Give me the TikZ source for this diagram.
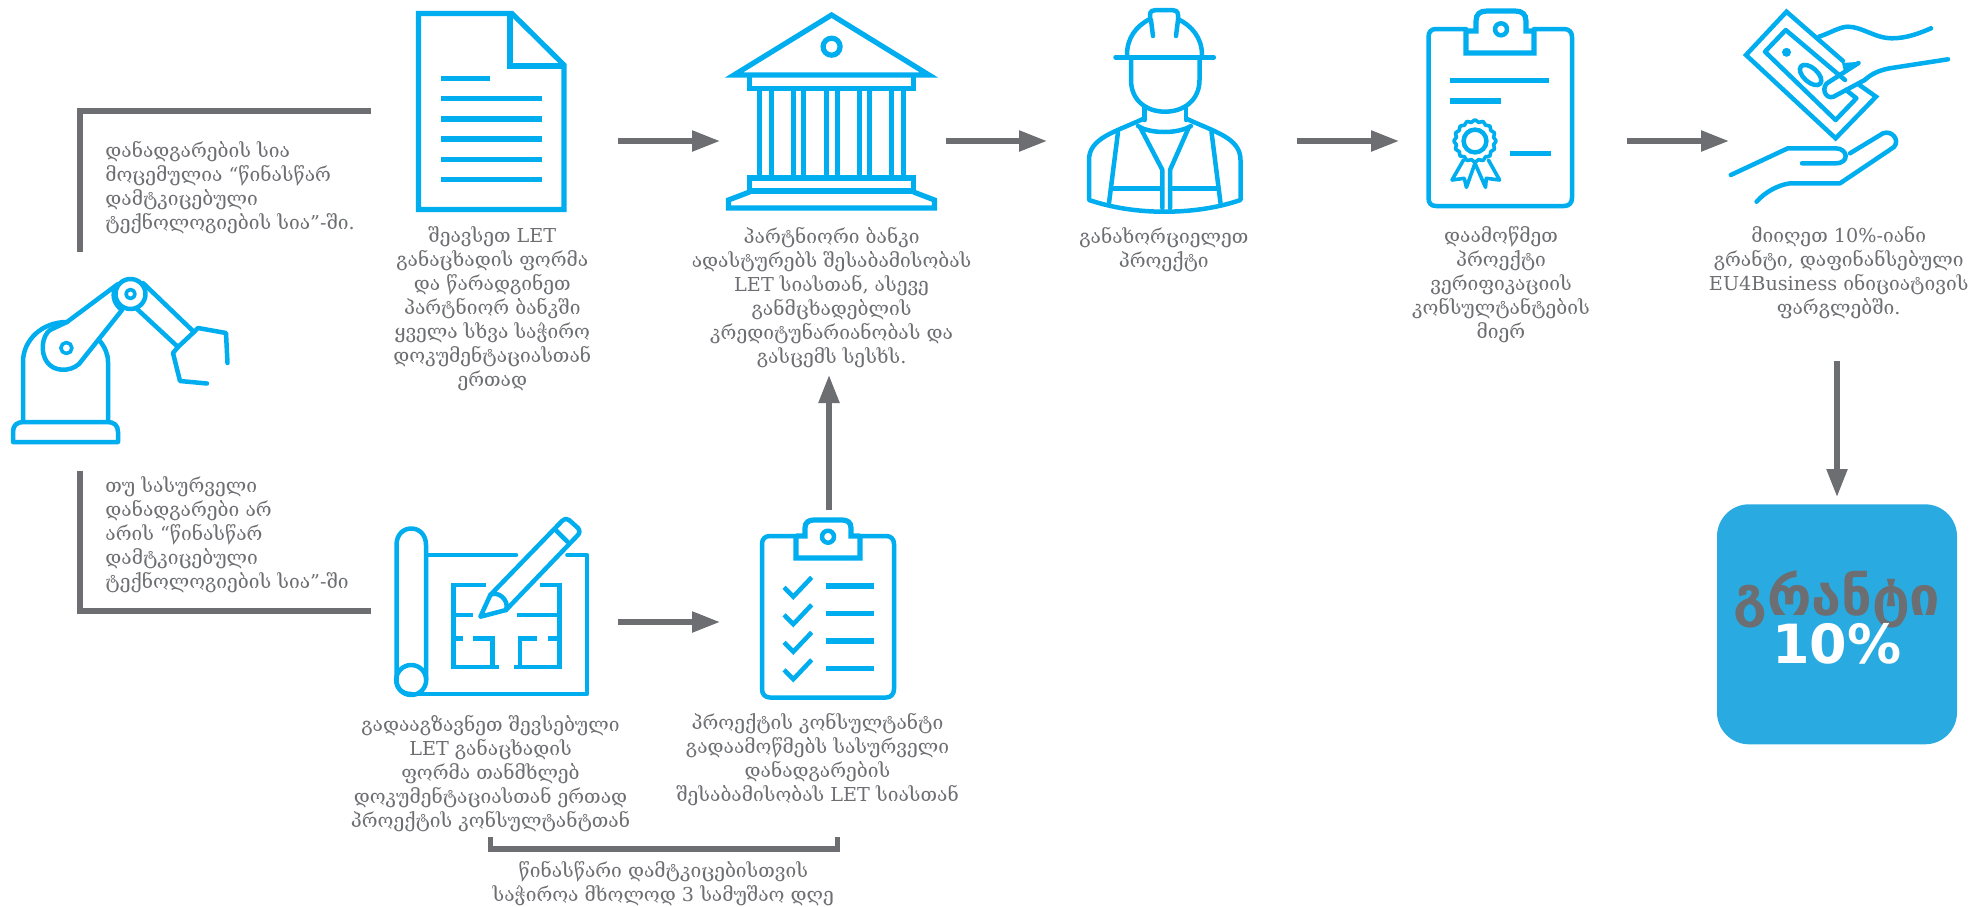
\documentclass[tikz,border=0pt]{standalone}
\usepackage{fontspec}
\setmainfont{DejaVu Serif}
\newfontfamily\boldsansfont{DejaVu Sans}[BoldFont={DejaVu Sans Bold}]
\usetikzlibrary{arrows.meta}
\definecolor{iconblue}{RGB}{0,174,239}
\definecolor{flowgrey}{RGB}{109,110,113}
\definecolor{tileblue}{RGB}{41,171,226}
\tikzset{
  icon/.style={draw=iconblue,line width=2.6pt,line join=miter},
  thin icon/.style={draw=iconblue,line width=2.25pt,line cap=round,line join=round},
  flowarrow/.style={draw=flowgrey,line width=2.7pt,-{Triangle[length=14pt,width=10pt]}},
  flowbracket/.style={draw=flowgrey,line width=2.7pt},
  caption/.style={text=flowgrey,font=\fontsize{9.6}{12}\selectfont,align=center,inner sep=0pt,anchor=north,execute at begin node=\strut},
  sidenote/.style={caption,align=left,anchor=north west}
}
\begin{document}
\begin{tikzpicture}[x=0.5pt,y=0.5pt,yscale=-1,xscale=1]
\useasboundingbox (0,0) rectangle (1972,906);

% Brackets
\coordinate (topEnd) at (371,111);
\coordinate (topCorner) at (80,111);
\coordinate (topFoot) at (80,252);
\draw [flowbracket] (topEnd) -- (topCorner) -- (topFoot) ;
\coordinate (lowTop) at (80,471);
\coordinate (lowCorner) at (80,611);
\coordinate (lowEnd) at (371,611);
\draw [flowbracket] (lowTop) -- (lowCorner) -- (lowEnd) ;
\coordinate (daysLeftTop) at (490.5,837);
\coordinate (daysLeft) at (490.5,849);
\coordinate (daysRight) at (837.5,849);
\coordinate (daysRightTop) at (837.5,837);
\draw [flowbracket] (daysLeftTop) -- (daysLeft) -- (daysRight) -- (daysRightTop) ;

% Arrows
\coordinate (docOut) at (618,141);
\coordinate (bankIn) at (720,141);
\coordinate (bankOut) at (946,141);
\coordinate (workerIn) at (1047,141);
\coordinate (workerOut) at (1297,141);
\coordinate (certIn) at (1399,141);
\coordinate (certOut) at (1627,141);
\coordinate (moneyIn) at (1729,141);
\coordinate (moneyOut) at (1837,361);
\coordinate (tileIn) at (1837,497);
\coordinate (planOut) at (618,622);
\coordinate (listIn) at (720,622);
\coordinate (listOut) at (829,510);
\coordinate (bankTextIn) at (829,375);
\draw [flowarrow] (docOut) -- (bankIn) ;
\draw [flowarrow] (bankOut) -- (workerIn) ;
\draw [flowarrow] (workerOut) -- (certIn) ;
\draw [flowarrow] (certOut) -- (moneyIn) ;
\draw [flowarrow] (moneyOut) -- (tileIn) ;
\draw [flowarrow] (planOut) -- (listIn) ;
\draw [flowarrow] (listOut) -- (bankTextIn) ;

% Robot arm
\draw [thin icon] (13,442) -- (13,432) .. controls (13,425) and (17,422) .. (24,422) -- (107,422) .. controls (114,422) and (118,425) .. (118,432) -- (118,442) -- cycle ;
\draw [thin icon] (23,420) -- (23,362) .. controls (23,340) and (42,322) .. (67,322) ;
\draw [thin icon] (108,420) -- (108,362) .. controls (108,354) and (105,347) .. (99,340) ;
\draw [thin icon] (67,322) -- (118,284) .. controls (110,294) and (114,304) .. (122,310) -- (79,364) .. controls (70,372) and (54,372) .. (47,362) .. controls (40,352) and (42,336) .. (50,330) -- (67,322) ;
\draw [thin icon] (130.5,294) circle [radius=15] ;
\draw [thin icon,line width=1.8pt] (130.5,294) circle [radius=4.5] ;
\draw [thin icon,line width=1.8pt] (66.4,348) circle [radius=5.5] ;
\draw [thin icon] (143,283) -- (194,332) -- (178,347) -- (136,308) ;
\draw [thin icon] (194,332) -- (198,328) -- (226,333) -- (227.5,363) ;
\draw [thin icon] (178,347) -- (173,353) -- (180,381) -- (207,383.5) ;

% Document
\draw [icon] (418.5,13.5) -- (512,13.5) -- (564,65) -- (564,209.5) -- (418.5,209.5) -- cycle ;
\draw [icon] (510,13.5) -- (510,66) -- (564,66) ;
\draw [icon] (441,78.7) -- (489.5,78.7) ;
\draw [icon] (441,98.7) -- (542,98.7) ;
\draw [icon] (441,119) -- (542,119) ;
\draw [icon] (441,139) -- (542,139) ;
\draw [icon] (441,159.3) -- (542,159.3) ;
\draw [icon] (441,179.3) -- (542,179.3) ;

% Bank
\draw [icon] (831.6,15) -- (734,75) -- (929,75) -- cycle ;
\draw [icon] (831.6,46.7) circle [radius=8.5] ;
\draw [icon] (749.5,76) -- (749.5,88.5) -- (913.5,88.5) -- (913.5,76) ;
\draw [icon] (759.6,89) -- (759.6,178) (771.6,89) -- (771.6,178) ;
\draw [icon] (793.6,89) -- (793.6,178) (803.6,89) -- (803.6,178) ;
\draw [icon] (826.1,89) -- (826.1,178) (837.1,89) -- (837.1,178) ;
\draw [icon] (859.6,89) -- (859.6,178) (869.6,89) -- (869.6,178) ;
\draw [icon] (891.6,89) -- (891.6,178) (903.6,89) -- (903.6,178) ;
\draw [icon] (749.5,178) -- (913.5,178) -- (913.5,191) -- (749.5,191) -- cycle ;
\draw [icon] (749.5,192) -- (728.5,200) -- (728.5,208) -- (934.5,208) -- (934.5,200) -- (913.5,192) ;

% Worker
\draw [thin icon] (1115.5,57.3) -- (1213.8,57.3) ;
\draw [thin icon] (1127,55) .. controls (1127,38) and (1136,26) .. (1150,19) -- (1150,15) .. controls (1150,11) and (1153,10) .. (1156,10) -- (1172,10) .. controls (1175,10) and (1178,11) .. (1178,15) -- (1178,19) .. controls (1192,26) and (1202,38) .. (1202,55) ;
\draw [thin icon] (1151,20) -- (1153,36) (1178,20) -- (1176,36) ;
\draw [thin icon] (1131,58) -- (1131,80) .. controls (1131,100) and (1146,111.7) .. (1165,111.7) .. controls (1184,111.7) and (1199.5,100) .. (1199.5,80) -- (1199.5,58) ;
\draw [thin icon] (1144.5,108) -- (1144.5,120) (1186,108) -- (1186,120) ;
\draw [thin icon] (1143,119) .. controls (1115,132) and (1089,138) .. (1089,160) -- (1089,200) .. controls (1110,207) and (1135,211.7) .. (1164,211.7) .. controls (1195,211.7) and (1220,207) .. (1240.5,200) -- (1240.5,160) .. controls (1240.5,138) and (1215,132) .. (1187,119) ;
\draw [thin icon] (1138,126) .. controls (1150,134) and (1178,134) .. (1191,126) ;
\draw [thin icon] (1140,127) -- (1162.4,170) -- (1162.4,208) (1189,127) -- (1170,170) -- (1170,208) ;
\draw [thin icon] (1118,132) -- (1109,203) (1211.5,132) -- (1220.5,203) ;
\draw [thin icon] (1111,188.3) -- (1162,188.3) (1170,188.3) -- (1218,188.3) ;

% Certificate
\draw [thin icon] (1436,29) -- (1466,29) (1534,29) -- (1564,29) .. controls (1569,29) and (1572,32) .. (1572,37) -- (1572,198) .. controls (1572,203) and (1569,206) .. (1564,206) -- (1436,206) .. controls (1431,206) and (1428.5,203) .. (1428.5,198) -- (1428.5,37) .. controls (1428.5,32) and (1431,29) .. (1436,29) ;
\draw [icon] (1466,29) -- (1466,53) -- (1534,53) -- (1534,29) (1466,31) -- (1476,31) -- (1476,21) .. controls (1476,14) and (1480,11) .. (1487,11) -- (1515,11) .. controls (1522,11) and (1526,14) .. (1526,21) -- (1526,31) -- (1534,31) ;
\draw [thin icon] (1501,29.3) circle [radius=6] ;
\draw [icon] (1450,80.7) -- (1548.7,80.7) (1450,101) -- (1501,101) (1510.4,153.3) -- (1551,153.3) ;
\draw [thin icon,line width=1.8pt] plot [smooth cycle,samples=64,domain=0:354.4] ({1475+(20+1.1*cos(16*\x))*cos(\x)},{141+(20+1.1*cos(16*\x))*sin(\x)}) ;
\draw [thin icon] (1475,141) circle [radius=11.4] ;
\draw [thin icon,line width=1.8pt] (1463.5,160) -- (1452,180) -- (1464.3,178.3) -- (1466.4,187.3) -- (1475,163.3) -- (1485.5,187.3) -- (1486.3,178.3) -- (1499.6,180) -- (1488.4,160) ;

% Money
\draw [thin icon,line join=miter] (1843,61) -- (1786.5,11.7) -- (1746,55) -- (1835.6,138.3) -- (1876,96.7) -- (1858,84) ;
\draw [thin icon] (1845,80) -- (1785.7,30) -- (1765,51.7) -- (1835.6,120) -- (1856.4,98.3) -- (1846,90) ;
\draw [fill=iconblue,draw=none] (1786.5,52.3) circle [radius=4.5] ;
\draw [fill=iconblue,draw=none] (1842,63) -- (1860.5,61.7) -- (1844,71.7) -- cycle ;
\draw [thin icon] (1810.6,75) ellipse [x radius=13,y radius=7,rotate=42] ;
\draw [thin icon] (1819,36.7) .. controls (1830,33) and (1840,26.7) .. (1848,26.7) .. controls (1862,26.7) and (1875,38.3) .. (1892,38.3) .. controls (1907,38.3) and (1920,33) .. (1931,28.3) ;
\draw [thin icon] (1948,59.3) -- (1889.6,68.3) .. controls (1875,71) and (1868,77) .. (1864.7,80) -- (1833.5,96.7) .. controls (1825,100) and (1820,86) .. (1829.4,81.7) -- (1858.5,63) ;
\draw [thin icon] (1730.8,175) -- (1787.8,148.3) -- (1835.6,148.3) .. controls (1848,148.3) and (1850,163.3) .. (1835.6,163.3) -- (1802,163.3) ;
\draw [thin icon] (1850,153.3) -- (1883,133.3) .. controls (1892,130) and (1900,140) .. (1894,147) -- (1840,183.3) -- (1790,183.3) .. controls (1778,185) and (1765,192) .. (1756.6,201.7) ;

% Blueprint
\draw [thin icon] (396.5,680) -- (396.5,545) .. controls (396.5,523) and (426,523) .. (426,545) -- (426,680) ;
\draw [thin icon] (411.2,680) circle [radius=15] ;
\draw [thin icon] (411.2,694) -- (587,694) -- (587,555) -- (567.4,555) (516,555) -- (428,555) ;
\draw [thin icon] (396.5,680) .. controls (396.5,689) and (403,694) .. (411.2,694) ;
\draw [thin icon,line cap=butt,line join=miter] (486.4,585) -- (453.5,585) -- (453.5,667) -- (499,667) (453.5,615) -- (473.3,615) (453.5,638.3) -- (463.4,638.3) (473.3,638.3) -- (492.3,638.3) -- (492.3,667) ;
\draw [thin icon,line cap=butt,line join=miter] (539.7,585) -- (559.5,585) -- (559.5,667) -- (514,667) (559.5,615) -- (516.8,615) (559.5,638.3) -- (547.6,638.3) (537,638.3) -- (520,638.3) -- (520,667) ;
\draw [thin icon] (480.4,616.7) -- (490.3,595) -- (562,521) .. controls (565,518.5) and (567,518.5) .. (569,520) -- (578,528) .. controls (580,531) and (580,533) .. (577,536) -- (506,610) -- cycle ;
\draw [thin icon] (490.3,595) .. controls (497,590) and (510,600) .. (506,610) ;
\draw [thin icon] (555.6,530) -- (567.4,541.7) ;

% Clipboard
\draw [thin icon] (770,536) -- (796,536) (860,536) -- (886,536) .. controls (891,536) and (894,539) .. (894,544) -- (894,689) .. controls (894,694) and (891,697.5) .. (886,697.5) -- (770,697.5) .. controls (765,697.5) and (762,694) .. (762,689) -- (762,544) .. controls (762,539) and (765,536) .. (770,536) ;
\draw [icon] (796,536) -- (796,558) -- (860,558) -- (860,536) (796,536) -- (805,536) -- (805,528) .. controls (805,522) and (809,520) .. (814,520) -- (842,520) .. controls (847,520) and (851,522) .. (851,528) -- (851,536) -- (860,536) ;
\draw [thin icon] (828,536.7) circle [radius=6] ;
\draw [thin icon,line cap=butt,line join=miter] (784,587.3) -- (793.3,596.7) -- (811.7,577.3) ;
\draw [thin icon,line cap=butt,line join=miter] (784,614.8) -- (793.3,624.2) -- (811.7,604.8) ;
\draw [thin icon,line cap=butt,line join=miter] (784,642.3) -- (793.3,651.7) -- (811.7,632.3) ;
\draw [thin icon,line cap=butt,line join=miter] (784,669.8) -- (793.3,679.2) -- (811.7,659.8) ;
\draw [icon] (825.7,586) -- (874,586) (825.7,613.3) -- (874,613.3) (825.7,641) -- (874,641) (825.7,668.3) -- (874,668.3) ;

% Tile
\node (grantTile) [fill=tileblue,rounded corners=16pt,minimum width=120pt,minimum height=120pt,inner sep=0pt] at (1837,624.3) {};

% Text Node
\node (topNote) [sidenote] at (105,141) {დანადგარების სია\\მოცემულია “წინასწარ\\დამტკიცებული\\ტექნოლოგიების სია”-ში.};
% Text Node
\node (lowNote) [sidenote] at (105,476.5) {თუ სასურველი\\დანადგარები არ\\არის “წინასწარ\\დამტკიცებული\\ტექნოლოგიების სია”-ში};
% Text Node
\node (docText) [caption] at (492.3,226) {შეავსეთ LET\\განაცხადის ფორმა\\და წარადგინეთ\\პარტნიორ ბანკში\\ყველა სხვა საჭირო\\დოკუმენტაციასთან\\ერთად};
% Text Node
\node (bankText) [caption] at (831.6,226.5) {პარტნიორი ბანკი\\ადასტურებს შესაბამისობას\\LET სიასთან, ასევე\\განმცხადებლის\\კრედიტუნარიანობას და\\გასცემს სესხს.};
% Text Node
\node (workerText) [caption] at (1163.8,226.5) {განახორციელეთ\\პროექტი};
% Text Node
\node (certText) [caption] at (1501,226.5) {დაამოწმეთ\\პროექტი\\ვერიფიკაციის\\კონსულტანტების\\მიერ};
% Text Node
\node (moneyText) [caption] at (1838.7,226) {მიიღეთ 10\%-იანი\\გრანტი, დაფინანსებული\\EU4Business ინიციატივის\\ფარგლებში.};
% Text Node
\node (planText) [caption] at (490.5,714.5) {გადააგზავნეთ შევსებული\\LET განაცხადის\\ფორმა თანმხლებ\\დოკუმენტაციასთან ერთად\\პროექტის კონსულტანტთან};
% Text Node
\node (listText) [caption] at (817.5,713) {პროექტის კონსულტანტი\\გადაამოწმებს სასურველი\\დანადგარების\\შესაბამისობას LET სიასთან};
% Text Node
\node (daysText) [caption] at (663.3,861) {წინასწარი დამტკიცებისთვის\\საჭიროა მხოლოდ 3 სამუშაო დღე};
% Text Node
\node (grantWord) [text=flowgrey,anchor=base,inner sep=0pt,font=\boldsansfont\bfseries\fontsize{27}{27}\selectfont] at (1837,615) {გრანტი};
% Text Node
\node (grantShare) [text=white,anchor=base,inner sep=0pt,font=\boldsansfont\bfseries\fontsize{27}{27}\selectfont] at (1837,663) {10\%};

\end{tikzpicture}
\end{document}
